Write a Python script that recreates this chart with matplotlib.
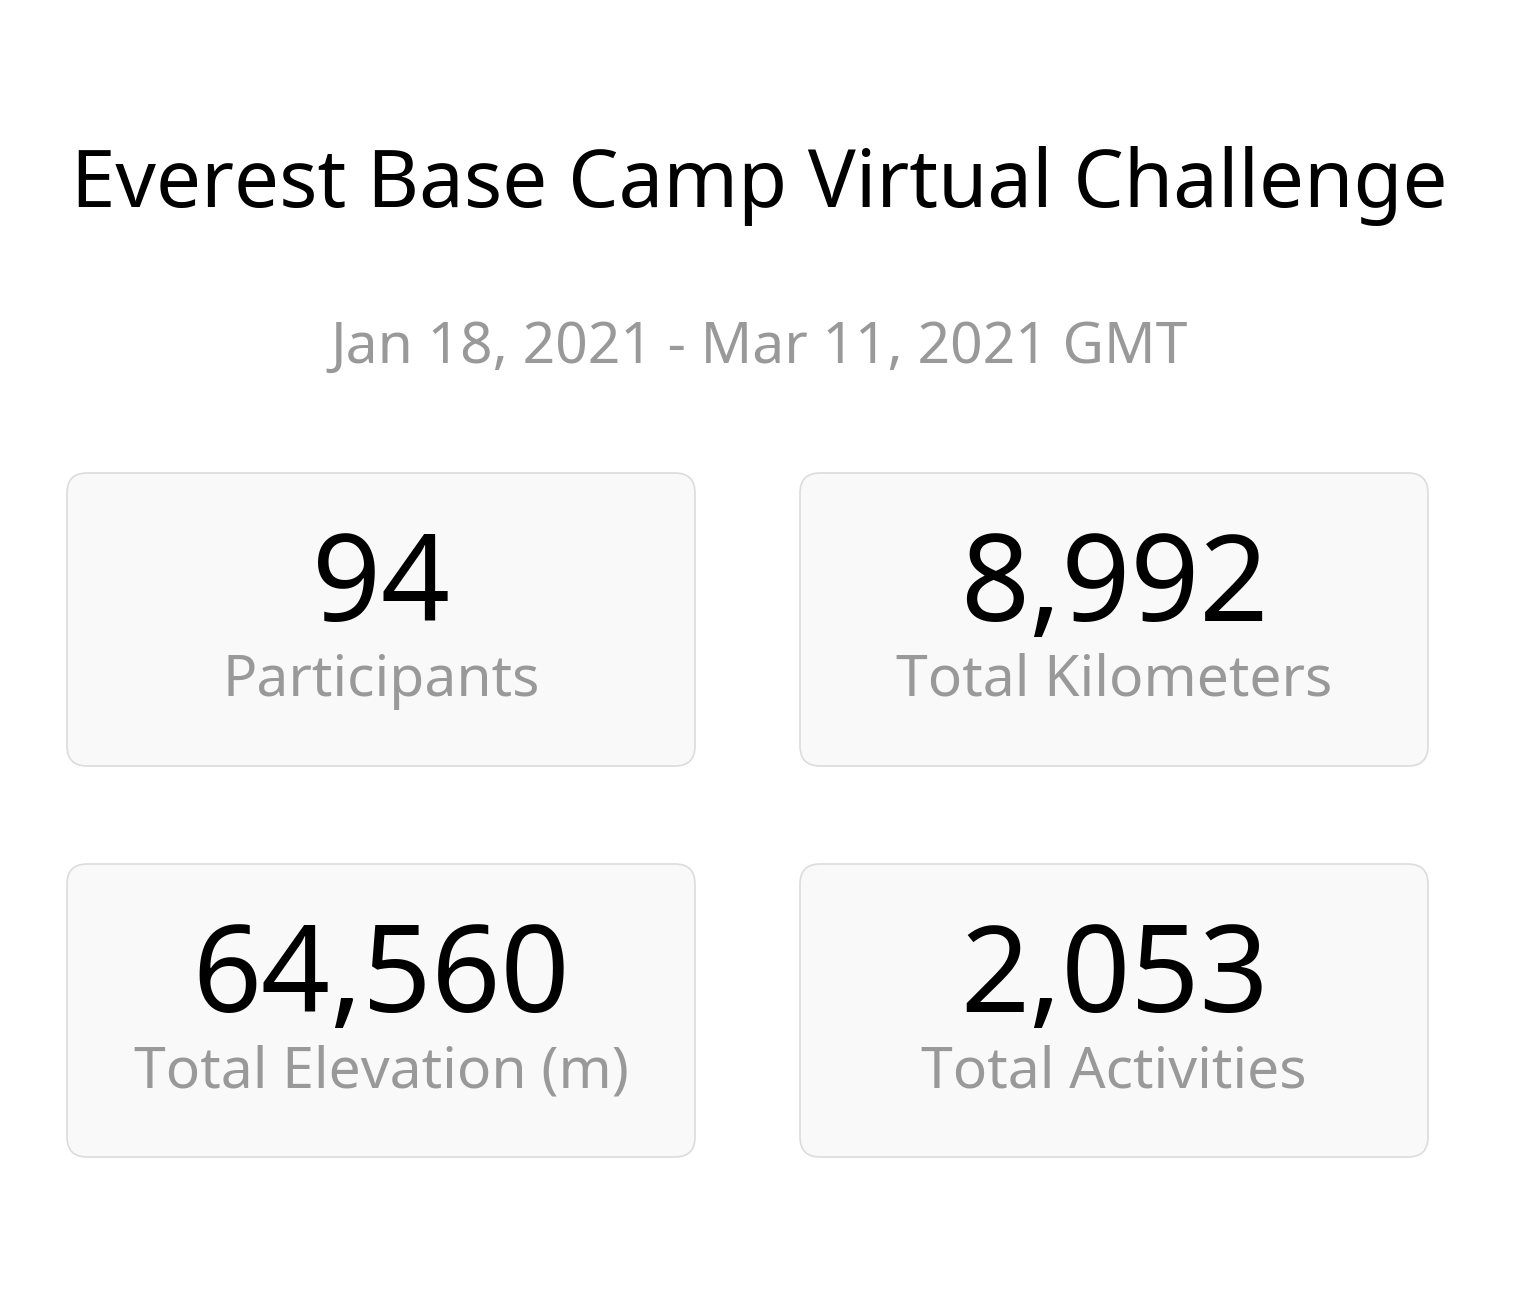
import matplotlib
matplotlib.use("Agg")
import matplotlib.pyplot as plt
from matplotlib.patches import FancyBboxPatch

title = "Everest Base Camp Virtual Challenge"
subtitle = "Jan 18, 2021 - Mar 11, 2021 GMT"
values = ["94", "8,992", "64,560", "2,053"]
labels = ["Participants", "Total Kilometers", "Total Elevation (m)", "Total Activities"]

W, H = 1518, 1289
fig = plt.figure(figsize=(W / 100, H / 100), dpi=100)
ax = fig.add_axes([0, 0, 1, 1])
ax.set_xlim(0, W)
ax.set_ylim(H, 0)
ax.axis("off")

FONT = "Noto Sans"
GREY = "#999999"

ax.text(W / 2, 207, title, ha="center", va="baseline", fontsize=57.5, color="black", family=FONT)
ax.text(W / 2, 363, subtitle, ha="center", va="baseline", fontsize=41, color=GREY,
        family=FONT, fontweight=500)

# card grid
card_x = [67, 800]
card_y = [473, 864]
card_w, card_h = 628, 293
for i, (v, lab) in enumerate(zip(values, labels)):
    x0 = card_x[i % 2]
    y0 = card_y[i // 2]
    box = FancyBboxPatch((x0, y0), card_w, card_h,
                         boxstyle="round,pad=0,rounding_size=20",
                         facecolor="#f9f9f9", edgecolor="#dcdcdc", linewidth=1.2)
    ax.add_patch(box)
    cx = x0 + card_w / 2
    ax.text(cx, y0 + 148, v, ha="center", va="baseline", fontsize=87, color="black", family=FONT)
    ax.text(cx, y0 + 223, lab, ha="center", va="baseline", fontsize=41, color=GREY,
            family=FONT, fontweight=500)

fig.savefig("out.png", dpi=100, facecolor="white")
